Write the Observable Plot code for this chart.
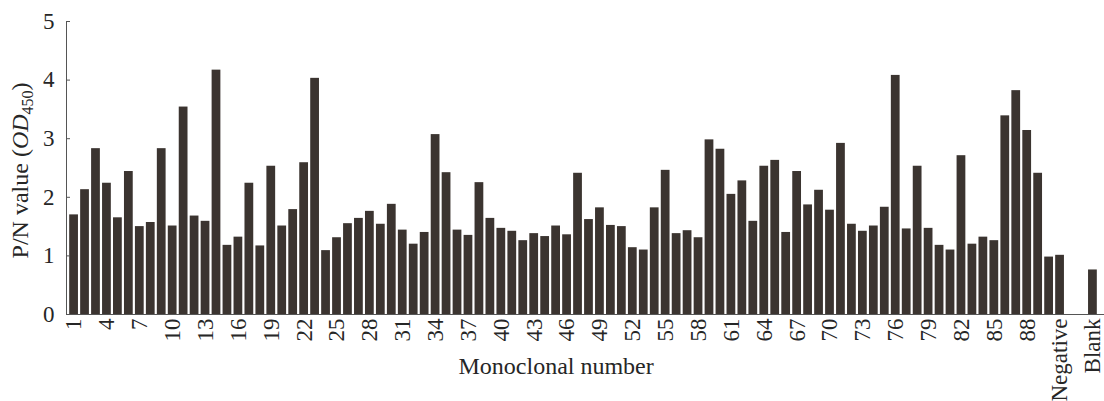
<!DOCTYPE html>
<html><head><meta charset="utf-8">
<script src="https://cdn.jsdelivr.net/npm/d3@7"></script>
<script src="https://cdn.jsdelivr.net/npm/@observablehq/plot@0.6"></script>
<style>body{margin:0;background:#fff}</style>
</head><body><div id="chart"></div>
<script>
const monoLabels = d3.range(1, 91).map(String);
const monoValues = [
  1.70,2.13,2.83,2.24,1.65,2.44,1.50,1.57,2.83,1.51,
  3.54,1.68,1.59,4.17,1.18,1.32,2.24,1.17,2.53,1.51,
  1.79,2.59,4.03,1.09,1.31,1.55,1.64,1.76,1.54,1.88,
  1.44,1.20,1.40,3.07,2.42,1.44,1.35,2.25,1.64,1.47,
  1.42,1.26,1.38,1.33,1.51,1.36,2.41,1.62,1.82,1.52,
  1.50,1.14,1.10,1.82,2.46,1.38,1.43,1.31,2.98,2.82,
  2.05,2.28,1.59,2.53,2.63,1.40,2.44,1.87,2.12,1.78,
  2.92,1.54,1.42,1.51,1.83,4.08,1.46,2.53,1.47,1.18,
  1.10,2.71,1.20,1.32,1.26,3.39,3.82,3.14,2.41,0.98
];
const controlLabels = ["Negative", "gap1", "gap2", "Blank"];
const controlValues = [1.01, null, null, 0.76];
const yTicks = [0, 1, 2, 3, 4, 5];

const categories = monoLabels.concat(controlLabels);
const values = monoValues.concat(controlValues);
const tickLabels = categories.filter((c, i) => i % 3 === 0);
const data = categories.map((c, i) => ({c, v: values[i]})).filter(d => d.v != null);

const font = "'Liberation Serif', 'Times New Roman', serif";
const chart = Plot.plot({
  width: 1104, height: 401,
  marginTop: 21, marginBottom: 87, marginLeft: 66, marginRight: 0,
  style: {fontFamily: font, fontSize: "23px", color: "#262626", background: "#fff"},
  x: {domain: categories, range: [67, 1099], padding: 0.2},
  y: {domain: [0, 5], ticks: yTicks, tickFormat: d3.format("d")},
  marks: [
    Plot.barY(data, {x: "c", y: "v", fill: "#3b3430"}),
    Plot.frame({anchor: "left", stroke: "#555"}),
    Plot.ruleY([0], {stroke: "#555"}),
    Plot.axisY({ticks: yTicks, tickFormat: d3.format("d"), tickSize: -4, tickPadding: 16, label: null, stroke: "#555", fontSize: 23}),
    Plot.axisX({ticks: tickLabels, tickSize: 0, tickRotate: -90, tickPadding: 4, label: null, fontSize: 23}),
    Plot.text(["Monoclonal number"], {text: d => d, x: () => "45", frameAnchor: "bottom", dy: 59, fontSize: 24, fill: "#262626"})
  ]
});
document.getElementById("chart").append(chart);

const yMid = chart.scale("y").apply(2.45);
const t = d3.select(chart).append("text")
  .attr("transform", `translate(20,${yMid}) rotate(-90)`)
  .attr("text-anchor", "middle")
  .attr("dy", "0.35em")
  .attr("fill", "#262626")
  .style("font-family", font)
  .style("font-size", "24px");
t.append("tspan").text("P/N value (");
t.append("tspan").attr("font-style", "italic").text("OD");
t.append("tspan").attr("font-size", "16px").attr("dy", 5).text("450");
t.append("tspan").attr("dy", -5).text(")");
</script>
</body></html>
